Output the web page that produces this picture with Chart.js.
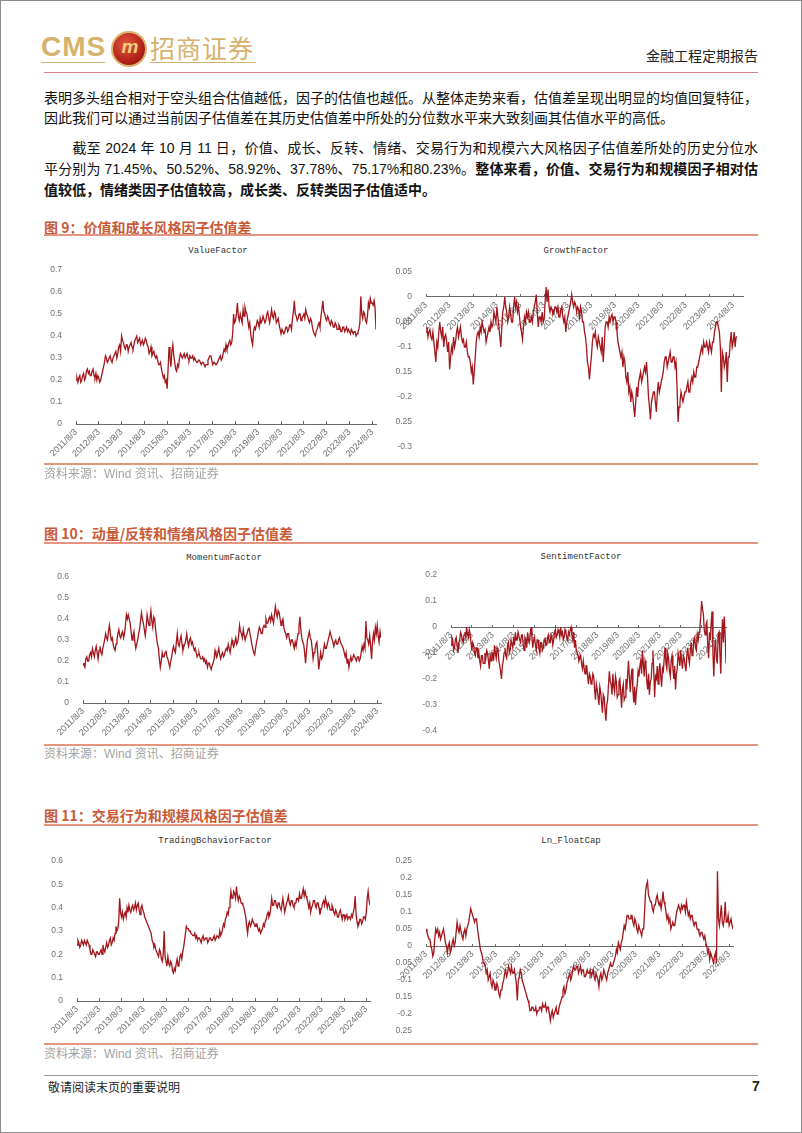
<!DOCTYPE html>
<html>
<head>
<meta charset="utf-8">
<script src="https://cdn.jsdelivr.net/npm/chart.js@4.4.1/dist/chart.umd.min.js"></script>
<style>
  html, body { margin: 0; padding: 0; background: #fff; }
  #page { position: relative; width: 802px; height: 1133px; overflow: hidden; font-family: "Liberation Sans", "Noto Sans CJK SC", sans-serif; color: #111; }
  #frame { position: absolute; left: 0; top: 0; width: 802px; height: 1133px; box-sizing: border-box; border: 1px solid #8c8c8c; pointer-events: none; }
  .abs { position: absolute; white-space: nowrap; }
  .line { position: absolute; left: 44px; width: 714px; }
  .para { position: absolute; left: 44px; width: 714px; font-size: 14px; line-height: 20px; height: 20px; white-space: nowrap; }
  .full { text-align: justify; text-align-last: justify; }
  .fig { position: absolute; left: 44px; font-size: 14px; font-weight: bold; color: #c95a37; font-family: "Noto Sans CJK SC", sans-serif; line-height: 18px; }
  .src { position: absolute; left: 44px; font-size: 12px; color: #a3a3a3; font-family: "Liberation Sans", "Noto Sans CJK SC", sans-serif; line-height: 14px; }
  .ctitle { position: absolute; font-family: "Liberation Mono", "DejaVu Sans Mono", monospace; font-size: 9px; color: #333; line-height: 10px; transform: translateX(-50%); }
  canvas { position: absolute; }
</style>
</head>
<body>
<div id="page">
  <!-- header -->
  <div class="abs" style="left:41px;top:31px;font-size:28px;font-weight:bold;color:#d6b26c;line-height:32px;letter-spacing:1px;">CMS</div>
  <div class="abs" style="left:41px;top:62px;width:64px;height:1px;background:#d6b26c;"></div>
  <div class="abs" style="left:111px;top:31px;width:32px;height:32px;border-radius:50%;border:2px solid #d9b46e;background:radial-gradient(circle at 40% 35%, #e2583a, #b3221b 60%, #7a1010);"></div>
  <div class="abs" style="left:116px;top:33px;width:28px;text-align:center;font-size:19px;font-weight:bold;font-style:italic;color:#f1cf7c;line-height:28px;">m</div>
  <div class="abs" style="left:150px;top:31px;font-size:25px;color:#d6b26c;line-height:32px;font-family:'Noto Sans CJK SC';letter-spacing:1px;">招商证券</div>
  <div class="abs" style="left:150px;top:62px;width:106px;height:1px;background:#d6b26c;"></div>
  <div class="abs" style="left:646px;top:46px;font-size:14px;color:#222;font-family:'Noto Sans CJK SC';line-height:18px;">金融工程定期报告</div>
  <div class="line" style="top:72px;height:1px;background:#d88383;"></div>

  <!-- body text -->
  <div class="para full" style="top:88px;">表明多头组合相对于空头组合估值越低，因子的估值也越低。从整体走势来看，估值差呈现出明显的均值回复特征，</div>
  <div class="para" style="top:108px;">因此我们可以通过当前因子估值差在其历史估值差中所处的分位数水平来大致刻画其估值水平的高低。</div>
  <div class="para full" style="top:138px;">　　截至 2024 年 10 月 11 日，价值、成长、反转、情绪、交易行为和规模六大风格因子估值差所处的历史分位水</div>
  <div class="para full" style="top:159px;">平分别为 71.45%、50.52%、58.92%、37.78%、75.17%和80.23%。<b>整体来看，价值、交易行为和规模因子相对估</b></div>
  <div class="para" style="top:180px;"><b>值较低，情绪类因子估值较高，成长类、反转类因子估值适中。</b></div>

  <!-- figure 9 -->
  <div class="fig" style="top:218px;">图 9：价值和成长风格因子估值差</div>
  <div class="line" style="top:234px;height:2px;background:#e39580;"></div>
  <div class="ctitle" style="left:218px;top:246px;">ValueFactor</div>
  <div class="ctitle" style="left:576px;top:246px;">GrowthFactor</div>
  <canvas id="cValue" width="334" height="198" style="left:46px;top:266px;"></canvas>
  <canvas id="cGrowth" width="351" height="183" style="left:396px;top:268px;"></canvas>
  <div class="line" style="top:463px;height:2px;background:#e39580;"></div>
  <div class="src" style="top:467px;">资料来源：Wind 资讯、招商证券</div>

  <!-- figure 10 -->
  <div class="fig" style="top:524px;">图 10：动量/反转和情绪风格因子估值差</div>
  <div class="line" style="top:542px;height:2px;background:#e39580;"></div>
  <div class="ctitle" style="left:224px;top:553px;">MomentumFactor</div>
  <div class="ctitle" style="left:581px;top:552px;">SentimentFactor</div>
  <canvas id="cMomentum" width="332" height="170" style="left:53px;top:573px;"></canvas>
  <canvas id="cSentiment" width="309" height="164" style="left:421px;top:571px;"></canvas>
  <div class="line" style="top:744px;height:2px;background:#e39580;"></div>
  <div class="src" style="top:747px;">资料来源：Wind 资讯、招商证券</div>

  <!-- figure 11 -->
  <div class="fig" style="top:806px;">图 11：交易行为和规模风格因子估值差</div>
  <div class="line" style="top:824px;height:2px;background:#e39580;"></div>
  <div class="ctitle" style="left:215px;top:836px;">TradingBchaviorFactor</div>
  <div class="ctitle" style="left:571px;top:836px;">Ln_FloatCap</div>
  <canvas id="cTrading" width="327" height="184" style="left:47px;top:857px;"></canvas>
  <canvas id="cCap" width="341" height="178" style="left:396px;top:857px;"></canvas>
  <div class="line" style="top:1043px;height:2px;background:#e39580;"></div>
  <div class="src" style="top:1047px;">资料来源：Wind 资讯、招商证券</div>

  <!-- footer -->
  <div class="line" style="top:1075px;height:1px;background:#9a9a9a;"></div>
  <div class="abs" style="left:48px;top:1079px;font-size:12px;color:#222;font-family:'Noto Sans CJK SC';line-height:16px;">敬请阅读末页的重要说明</div>
  <div class="abs" style="left:752px;top:1078px;font-size:14px;font-weight:bold;color:#222;line-height:16px;">7</div>
  <div id="frame"></div>
</div>

<script>
// two readings per month (start / middle), 2011/8 .. 2024/10/11, 317 points each
const tickLabels = ['2011/8/3', '2012/8/3', '2013/8/3', '2014/8/3', '2015/8/3', '2016/8/3', '2017/8/3',
    '2018/8/3', '2019/8/3', '2020/8/3', '2021/8/3', '2022/8/3', '2023/8/3', '2024/8/3'];
const POINTS_PER_YEAR = 24;

const valueFactor = [
    0.20,0.21, 0.19,0.21, 0.22,0.19, 0.20,0.22, 0.23,0.20, 0.21,0.24, 0.25,0.23, 0.24,0.22, 0.22,0.24, 0.25,0.22, 0.21,0.23, 0.20,0.22,
    0.21,0.19, 0.20,0.22, 0.24,0.26, 0.28,0.31, 0.30,0.28, 0.29,0.30, 0.31,0.29, 0.28,0.30, 0.30,0.32, 0.33,0.30, 0.32,0.35, 0.36,0.33,
    0.40,0.38, 0.37,0.35, 0.34,0.36, 0.36,0.33, 0.35,0.36, 0.37,0.35, 0.34,0.36, 0.38,0.39, 0.40,0.37, 0.38,0.39, 0.36,0.37, 0.38,0.36,
    0.37,0.39, 0.38,0.36, 0.35,0.32, 0.33,0.35, 0.31,0.32, 0.33,0.31, 0.30,0.31, 0.29,0.27, 0.27,0.28, 0.25,0.23, 0.21,0.22, 0.19,0.20,
    0.16,0.25, 0.35,0.30, 0.26,0.33, 0.36,0.31, 0.28,0.25, 0.24,0.27, 0.26,0.30, 0.32,0.31, 0.30,0.31, 0.32,0.30, 0.31,0.32, 0.30,0.29,
    0.31,0.30, 0.30,0.31, 0.29,0.30, 0.29,0.28, 0.28,0.29, 0.29,0.28, 0.27,0.28, 0.28,0.27, 0.26,0.27, 0.27,0.29, 0.30,0.31, 0.31,0.29,
    0.27,0.28, 0.28,0.27, 0.27,0.28, 0.29,0.30, 0.31,0.29, 0.30,0.32, 0.34,0.33, 0.36,0.34, 0.35,0.37, 0.38,0.36, 0.37,0.41, 0.50,0.46,
    0.47,0.50, 0.55,0.49, 0.47,0.50, 0.48,0.46, 0.52,0.49, 0.53,0.51, 0.50,0.47, 0.44,0.46, 0.41,0.38, 0.36,0.42, 0.44,0.43, 0.45,0.47,
    0.46,0.44, 0.48,0.46, 0.47,0.49, 0.49,0.46, 0.47,0.50, 0.51,0.48, 0.46,0.49, 0.52,0.49, 0.48,0.51, 0.50,0.46, 0.47,0.48, 0.45,0.43,
    0.41,0.43, 0.43,0.41, 0.42,0.44, 0.44,0.42, 0.43,0.45, 0.45,0.43, 0.48,0.51, 0.56,0.50, 0.49,0.47, 0.48,0.50, 0.50,0.47, 0.48,0.49,
    0.50,0.48, 0.52,0.50, 0.49,0.47, 0.46,0.48, 0.47,0.44, 0.42,0.41, 0.40,0.42, 0.43,0.45, 0.46,0.44, 0.49,0.52, 0.56,0.51, 0.50,0.48,
    0.47,0.49, 0.48,0.46, 0.45,0.47, 0.46,0.44, 0.44,0.46, 0.45,0.43, 0.43,0.45, 0.44,0.42, 0.42,0.44, 0.44,0.42, 0.43,0.44, 0.42,0.43,
    0.42,0.41, 0.43,0.42, 0.41,0.42, 0.42,0.40, 0.41,0.42, 0.43,0.46, 0.58,0.50, 0.48,0.51, 0.50,0.47, 0.46,0.49, 0.55,0.53, 0.57,0.55,
    0.55,0.54, 0.56,0.53, 0.43
];

const growthFactor = [
    -0.07,-0.06, -0.08,-0.07, -0.065,-0.08, -0.085,-0.07, -0.09,-0.11, -0.13,-0.09, -0.10,-0.07, -0.05,-0.07, -0.08,-0.06, -0.10,-0.08, -0.075,-0.09, -0.11,-0.09,
    -0.145,-0.12, -0.10,-0.11, -0.08,-0.10, -0.09,-0.07, -0.06,-0.08, -0.07,-0.06, -0.08,-0.09, -0.085,-0.10, -0.10,-0.09, -0.11,-0.12, -0.12,-0.13, -0.15,-0.14,
    -0.175,-0.15, -0.12,-0.09, -0.075,-0.07, -0.08,-0.06, -0.07,-0.05, -0.06,-0.07, -0.065,-0.09, -0.08,-0.07, -0.06,-0.07, -0.05,-0.06, -0.055,-0.03, -0.04,-0.05,
    -0.02,-0.04, -0.06,-0.08, -0.10,-0.06, -0.03,-0.02, 0.00,-0.02, -0.03,-0.05, -0.04,-0.02, -0.035,-0.05, -0.05,-0.02, 0.00,-0.02, -0.01,-0.03, -0.02,-0.04,
    -0.06,-0.07, -0.085,-0.06, -0.04,-0.05, -0.03,-0.04, -0.03,-0.05, -0.05,-0.04, -0.05,-0.03, -0.02,-0.01, 0.005,-0.03, -0.06,-0.04, -0.04,-0.05, -0.03,-0.05,
    -0.045,-0.01, 0.02,-0.01, 0.015,-0.02, -0.03,-0.02, -0.025,-0.035, -0.03,-0.02, -0.02,-0.03, -0.02,-0.04, -0.04,-0.025, -0.02,-0.04, -0.05,-0.04, -0.07,-0.05,
    -0.04,-0.03, -0.02,-0.01, 0.005,-0.01, -0.02,-0.01, -0.015,-0.03, -0.02,-0.025, -0.04,-0.02, -0.03,-0.05, -0.05,-0.07, -0.08,-0.10, -0.13,-0.14, -0.165,-0.14,
    -0.12,-0.09, -0.075,-0.08, -0.07,-0.09, -0.10,-0.08, -0.09,-0.10, -0.11,-0.08, -0.13,-0.10, -0.06,-0.05, -0.05,-0.06, -0.04,-0.05, -0.04,-0.035, -0.05,-0.04,
    -0.04,-0.05, -0.07,-0.09, -0.10,-0.11, -0.12,-0.11, -0.14,-0.12, -0.13,-0.16, -0.17,-0.15, -0.19,-0.18, -0.21,-0.19, -0.20,-0.22, -0.24,-0.21, -0.18,-0.20,
    -0.17,-0.16, -0.15,-0.17, -0.16,-0.15, -0.14,-0.15, -0.13,-0.16, -0.20,-0.22, -0.245,-0.21, -0.20,-0.19, -0.19,-0.21, -0.23,-0.19, -0.17,-0.19, -0.18,-0.17,
    -0.16,-0.15, -0.13,-0.12, -0.12,-0.14, -0.13,-0.12, -0.11,-0.13, -0.13,-0.12, -0.12,-0.14, -0.13,-0.18, -0.25,-0.22, -0.21,-0.19, -0.20,-0.21, -0.20,-0.19,
    -0.19,-0.18, -0.17,-0.19, -0.19,-0.17, -0.16,-0.17, -0.15,-0.16, -0.16,-0.14, -0.14,-0.13, -0.12,-0.11, -0.10,-0.11, -0.09,-0.10, -0.10,-0.09, -0.10,-0.11,
    -0.09,-0.10, -0.11,-0.09, -0.09,-0.07, -0.06,-0.05, -0.05,-0.06, -0.07,-0.10, -0.19,-0.11, -0.12,-0.14, -0.13,-0.11, -0.17,-0.12, -0.12,-0.09, -0.07,-0.10,
    -0.09,-0.07, -0.10,-0.08, -0.08
];

const momentumFactor = [
    0.19,0.18, 0.17,0.21, 0.22,0.20, 0.20,0.23, 0.24,0.22, 0.26,0.24, 0.22,0.25, 0.27,0.24, 0.21,0.25, 0.27,0.24, 0.23,0.26, 0.28,0.30,
    0.33,0.31, 0.30,0.34, 0.37,0.33, 0.30,0.31, 0.28,0.26, 0.25,0.28, 0.30,0.33, 0.35,0.32, 0.31,0.33, 0.34,0.31, 0.33,0.37, 0.42,0.40,
    0.42,0.40, 0.38,0.34, 0.30,0.32, 0.34,0.29, 0.26,0.28, 0.30,0.33, 0.35,0.39, 0.43,0.40, 0.38,0.35, 0.32,0.36, 0.42,0.39, 0.37,0.40,
    0.44,0.39, 0.36,0.41, 0.40,0.35, 0.31,0.28, 0.26,0.21, 0.17,0.20, 0.24,0.22, 0.22,0.24, 0.25,0.22, 0.21,0.19, 0.17,0.20, 0.22,0.25,
    0.27,0.25, 0.24,0.29, 0.33,0.28, 0.27,0.30, 0.32,0.28, 0.25,0.27, 0.28,0.30, 0.33,0.29, 0.27,0.30, 0.31,0.28, 0.29,0.27, 0.25,0.26,
    0.24,0.22, 0.23,0.24, 0.22,0.21, 0.21,0.22, 0.20,0.21, 0.19,0.20, 0.17,0.19, 0.19,0.17, 0.16,0.18, 0.19,0.21, 0.25,0.23, 0.22,0.24,
    0.26,0.23, 0.21,0.23, 0.24,0.22, 0.23,0.25, 0.26,0.25, 0.28,0.26, 0.24,0.27, 0.30,0.28, 0.27,0.29, 0.31,0.28, 0.29,0.32, 0.37,0.34,
    0.33,0.31, 0.35,0.32, 0.30,0.32, 0.33,0.35, 0.36,0.33, 0.31,0.28, 0.26,0.24, 0.23,0.26, 0.29,0.31, 0.34,0.36, 0.35,0.33, 0.33,0.36,
    0.37,0.36, 0.40,0.38, 0.38,0.40, 0.41,0.39, 0.42,0.40, 0.38,0.42, 0.46,0.43, 0.41,0.44, 0.43,0.40, 0.37,0.39, 0.40,0.36, 0.34,0.33,
    0.31,0.33, 0.33,0.30, 0.28,0.30, 0.30,0.28, 0.26,0.29, 0.27,0.30, 0.33,0.36, 0.41,0.35, 0.31,0.29, 0.28,0.24, 0.19,0.25, 0.30,0.32,
    0.34,0.31, 0.30,0.26, 0.21,0.24, 0.25,0.28, 0.29,0.23, 0.16,0.20, 0.24,0.21, 0.22,0.25, 0.28,0.26, 0.26,0.28, 0.30,0.32, 0.34,0.32,
    0.32,0.29, 0.27,0.29, 0.30,0.28, 0.28,0.30, 0.31,0.29, 0.28,0.27, 0.26,0.24, 0.22,0.24, 0.19,0.21, 0.17,0.20, 0.22,0.20, 0.21,0.23,
    0.22,0.21, 0.20,0.22, 0.22,0.20, 0.21,0.24, 0.27,0.25, 0.28,0.26, 0.39,0.31, 0.30,0.28, 0.32,0.27, 0.21,0.29, 0.33,0.30, 0.36,0.33,
    0.37,0.32, 0.29,0.34, 0.31
];

const sentimentFactor = [
    -0.07,-0.04, -0.05,-0.09, -0.08,-0.05, -0.04,-0.07, -0.10,-0.06, -0.05,-0.02, -0.03,-0.05, -0.06,-0.03, -0.02,-0.04, 0.00,-0.03, -0.04,-0.01, -0.03,-0.06,
    -0.09,-0.06, -0.07,-0.10, -0.11,-0.08, -0.08,-0.12, -0.10,-0.13, -0.15,-0.11, -0.11,-0.14, -0.14,-0.10, -0.12,-0.09, -0.10,-0.13, -0.16,-0.11, -0.13,-0.10,
    -0.10,-0.13, -0.07,-0.10, -0.12,-0.08, -0.09,-0.13, -0.15,-0.17, -0.20,-0.15, -0.13,-0.10, -0.08,-0.11, -0.12,-0.07, -0.06,-0.10, -0.09,-0.05, -0.05,-0.08,
    -0.04,-0.07, -0.02,-0.05, -0.05,-0.02, -0.02,-0.05, -0.06,-0.03, -0.03,-0.07, -0.09,-0.04, -0.05,-0.08, -0.02,-0.05, -0.06,-0.03, 0.00,-0.04, -0.08,-0.05,
    -0.04,-0.07, -0.09,-0.05, -0.05,-0.08, -0.10,-0.06, -0.06,-0.09, -0.08,-0.05, -0.04,-0.07, -0.07,-0.04, -0.03,-0.06, -0.06,-0.03, -0.04,-0.07, -0.05,-0.02,
    -0.01,-0.04, -0.03,-0.01, -0.02,-0.04, 0.00,-0.03, -0.02,-0.05, -0.04,-0.01, -0.02,-0.04, -0.05,-0.02, -0.03,-0.01, 0.00,-0.03, -0.05,-0.02, -0.08,-0.05,
    -0.09,-0.10, -0.11,-0.13, -0.12,-0.11, -0.14,-0.16, -0.13,-0.16, -0.18,-0.15, -0.15,-0.19, -0.22,-0.18, -0.19,-0.22, -0.21,-0.18, -0.19,-0.24, -0.28,-0.22,
    -0.24,-0.27, -0.30,-0.23, -0.25,-0.29, -0.33,-0.26, -0.27,-0.32, -0.36,-0.30, -0.28,-0.22, -0.17,-0.21, -0.22,-0.26, -0.18,-0.23, -0.25,-0.19, -0.21,-0.27,
    -0.26,-0.21, -0.20,-0.25, -0.31,-0.24, -0.22,-0.28, -0.27,-0.20, -0.24,-0.18, -0.13,-0.20, -0.25,-0.19, -0.16,-0.24, -0.29,-0.23, -0.30,-0.25, -0.22,-0.17,
    -0.19,-0.15, -0.13,-0.18, -0.09,-0.14, -0.19,-0.13, -0.15,-0.21, -0.24,-0.18, -0.26,-0.21, -0.20,-0.14, -0.09,-0.17, -0.27,-0.19, -0.20,-0.15, -0.22,-0.17,
    -0.14,-0.19, -0.23,-0.16, -0.17,-0.12, -0.08,-0.14, -0.16,-0.10, -0.12,-0.17, -0.19,-0.13, -0.11,-0.16, -0.20,-0.15, -0.24,-0.18, -0.16,-0.10, -0.12,-0.15,
    -0.09,-0.13, -0.16,-0.11, -0.12,-0.15, -0.17,-0.11, -0.08,-0.12, -0.14,-0.09, -0.06,-0.11, -0.10,-0.05, -0.04,-0.08, -0.09,-0.03, -0.05,-0.02, 0.00,0.04,
    0.10,0.07, 0.05,-0.01, -0.03,0.01, 0.02,-0.07, -0.12,-0.02, -0.05,0.02, 0.06,-0.10, -0.19,-0.08, -0.05,-0.12, -0.14,-0.03, -0.02,-0.10, -0.18,-0.05,
    0.03,-0.06, 0.04,-0.03, -0.14
];

const tradingFactor = [
    0.24,0.26, 0.25,0.23, 0.24,0.26, 0.25,0.24, 0.26,0.25, 0.24,0.26, 0.25,0.24, 0.22,0.20, 0.20,0.22, 0.21,0.20, 0.19,0.21, 0.21,0.20,
    0.20,0.21, 0.22,0.20, 0.24,0.22, 0.21,0.23, 0.25,0.23, 0.24,0.26, 0.27,0.24, 0.25,0.27, 0.26,0.29, 0.32,0.30, 0.31,0.34, 0.44,0.38,
    0.36,0.38, 0.35,0.37, 0.38,0.36, 0.40,0.38, 0.41,0.39, 0.38,0.40, 0.41,0.39, 0.40,0.42, 0.39,0.41, 0.42,0.39, 0.37,0.40, 0.41,0.39,
    0.38,0.36, 0.35,0.34, 0.33,0.32, 0.31,0.30, 0.29,0.26, 0.25,0.23, 0.24,0.22, 0.21,0.20, 0.19,0.22, 0.21,0.18, 0.17,0.20, 0.30,0.19,
    0.17,0.15, 0.19,0.16, 0.15,0.17, 0.16,0.13, 0.12,0.14, 0.13,0.16, 0.18,0.15, 0.16,0.19, 0.20,0.18, 0.21,0.23, 0.26,0.29, 0.32,0.31,
    0.31,0.30, 0.30,0.29, 0.29,0.28, 0.28,0.29, 0.27,0.28, 0.26,0.27, 0.27,0.26, 0.25,0.27, 0.28,0.26, 0.26,0.27, 0.27,0.25, 0.26,0.27,
    0.27,0.26, 0.26,0.27, 0.28,0.26, 0.27,0.28, 0.28,0.27, 0.30,0.28, 0.29,0.31, 0.33,0.32, 0.35,0.36, 0.38,0.37, 0.40,0.43, 0.47,0.44,
    0.44,0.47, 0.46,0.44, 0.49,0.45, 0.43,0.45, 0.44,0.42, 0.42,0.41, 0.40,0.38, 0.36,0.32, 0.29,0.33, 0.34,0.32, 0.33,0.35, 0.34,0.33,
    0.32,0.33, 0.33,0.31, 0.30,0.31, 0.29,0.30, 0.31,0.33, 0.32,0.34, 0.35,0.37, 0.38,0.36, 0.37,0.40, 0.44,0.41, 0.41,0.43, 0.43,0.41,
    0.40,0.42, 0.42,0.40, 0.39,0.41, 0.44,0.41, 0.38,0.40, 0.42,0.43, 0.45,0.42, 0.41,0.43, 0.43,0.41, 0.40,0.42, 0.42,0.44, 0.44,0.43,
    0.46,0.44, 0.44,0.46, 0.48,0.45, 0.47,0.45, 0.44,0.42, 0.40,0.42, 0.38,0.40, 0.41,0.43, 0.43,0.41, 0.40,0.42, 0.42,0.40, 0.37,0.39,
    0.40,0.42, 0.43,0.41, 0.44,0.42, 0.40,0.42, 0.41,0.39, 0.39,0.41, 0.40,0.38, 0.37,0.39, 0.38,0.36, 0.36,0.38, 0.39,0.37, 0.35,0.37,
    0.37,0.35, 0.36,0.37, 0.35,0.36, 0.36,0.35, 0.37,0.36, 0.38,0.40, 0.45,0.37, 0.34,0.32, 0.33,0.35, 0.35,0.33, 0.34,0.36, 0.36,0.35,
    0.38,0.44, 0.47,0.43, 0.41
];

const floatCap = [
    0.05,0.04, 0.03,0.02, 0.02,0.00, -0.01,-0.03, -0.02,0.02, 0.05,0.04, 0.05,0.03, 0.04,0.02, 0.03,0.04, 0.05,0.03, 0.01,0.00, -0.02,0.00,
    0.01,-0.02, -0.01,0.01, 0.02,0.00, 0.01,0.04, 0.07,0.05, 0.04,0.06, 0.06,0.03, 0.02,0.04, 0.05,0.03, 0.05,0.06, 0.07,0.09, 0.11,0.10,
    0.09,0.08, 0.07,0.08, 0.08,0.05, 0.03,0.01, -0.01,-0.02, -0.03,-0.05, -0.05,-0.06, -0.08,-0.07, -0.10,-0.09, -0.08,-0.11, -0.12,-0.10, -0.11,-0.13,
    -0.13,-0.11, -0.12,-0.14, -0.15,-0.13, -0.13,-0.11, -0.10,-0.08, -0.07,-0.09, -0.08,-0.06, -0.07,-0.08, -0.06,-0.08, -0.08,-0.07, -0.09,-0.11, -0.16,-0.10,
    -0.09,-0.07, -0.08,-0.10, -0.11,-0.12, -0.13,-0.14, -0.15,-0.16, -0.17,-0.19, -0.19,-0.18, -0.18,-0.19, -0.19,-0.18, -0.20,-0.19, -0.19,-0.18, -0.18,-0.19,
    -0.17,-0.18, -0.18,-0.17, -0.19,-0.18, -0.18,-0.20, -0.22,-0.20, -0.19,-0.21, -0.20,-0.19, -0.18,-0.20, -0.20,-0.18, -0.17,-0.16, -0.15,-0.13, -0.12,-0.14,
    -0.13,-0.11, -0.10,-0.09, -0.08,-0.10, -0.09,-0.07, -0.06,-0.07, -0.07,-0.06, -0.06,-0.08, -0.07,-0.06, -0.08,-0.07, -0.07,-0.09, -0.09,-0.08, -0.07,-0.08,
    -0.08,-0.07, -0.09,-0.08, -0.07,-0.09, -0.10,-0.08, -0.08,-0.10, -0.12,-0.09, -0.08,-0.10, -0.09,-0.07, -0.08,-0.09, -0.10,-0.08, -0.07,-0.06, -0.05,-0.06,
    -0.06,-0.05, -0.04,-0.03, -0.01,-0.02, 0.01,0.00, -0.01,0.01, 0.02,0.04, 0.06,0.05, 0.07,0.09, 0.09,0.08, 0.08,0.09, 0.09,0.07, 0.06,0.08,
    0.07,0.05, 0.04,0.06, 0.05,0.04, 0.03,0.05, 0.05,0.10, 0.16,0.18, 0.19,0.15, 0.14,0.13, 0.13,0.11, 0.10,0.12, 0.12,0.14, 0.15,0.13,
    0.12,0.13, 0.11,0.13, 0.16,0.13, 0.12,0.10, 0.08,0.09, 0.07,0.08, 0.05,0.06, 0.07,0.06, 0.06,0.08, 0.10,0.11, 0.12,0.11, 0.10,0.12,
    0.11,0.12, 0.12,0.10, 0.13,0.11, 0.09,0.10, 0.08,0.09, 0.09,0.07, 0.06,0.07, 0.07,0.05, 0.05,0.04, 0.03,0.04, 0.04,0.03, 0.02,0.03,
    0.01,0.00, -0.02,-0.01, -0.04,-0.02, -0.03,-0.04, -0.05,-0.03, -0.02,-0.05, 0.22,0.08, 0.06,0.09, 0.12,0.07, 0.06,0.08, 0.13,0.07, 0.07,0.09,
    0.06,0.07, 0.08,0.06, 0.05
];

const LINE_COLOR = "#a3161b";
const AXIS_COLOR = "#6a6a6a";
const TICK_COLOR = "#707070";

// one chart per factor
function drawFactor(canvasId, values, yMin, yMax, yStep, zeroAxis, xMax) {
    const ctx = document.getElementById(canvasId).getContext("2d");
    return new Chart(ctx, {
        type: "line",
        data: {
            datasets: [{
                data: values.map((v, i) => ({ x: i, y: v })),
                borderColor: LINE_COLOR,
                borderWidth: 1.3,
                pointRadius: 0,
                tension: 0
            }]
        },
        options: {
            responsive: false,
            animation: false,
            devicePixelRatio: 1,
            layout: { padding: { top: 4, right: 4, bottom: zeroAxis ? 4 : 0, left: 0 } },
            plugins: { legend: { display: false }, tooltip: { enabled: false } },
            scales: {
                x: {
                    type: "linear",
                    min: 0,
                    max: xMax,
                    position: zeroAxis ? { y: 0 } : "bottom",
                    grid: { display: true, drawOnChartArea: false, drawTicks: true, tickLength: -3, color: AXIS_COLOR },
                    border: { display: true, color: AXIS_COLOR, width: 1 },
                    afterBuildTicks: s => { s.ticks = tickLabels.map((_, i) => ({ value: i * POINTS_PER_YEAR })); },
                    afterFit: s => { if (!zeroAxis) s.height = 40; s.paddingLeft = 0; s.paddingRight = 0; },
                    ticks: {
                        autoSkip: false,
                        minRotation: 45,
                        maxRotation: 45,
                        padding: 6,
                        color: TICK_COLOR,
                        font: { family: "Liberation Sans", size: 9 },
                        callback: v => tickLabels[Math.round(v / POINTS_PER_YEAR)]
                    }
                },
                y: {
                    min: yMin,
                    max: yMax,
                    grid: { display: false },
                    border: { display: false },
                    afterFit: s => { s.width = 30; s.paddingTop = 0; s.paddingBottom = 0; },
                    ticks: {
                        stepSize: yStep,
                        padding: 6,
                        color: TICK_COLOR,
                        font: { family: "Liberation Sans", size: 8.5 },
                        callback: v => String(+v.toFixed(2))
                    }
                }
            }
        }
    });
}

drawFactor("cValue", valueFactor, 0, 0.7, 0.1, false, 316);
drawFactor("cGrowth", growthFactor, -0.3, 0.05, 0.05, true, 322);
drawFactor("cMomentum", momentumFactor, 0, 0.6, 0.1, false, 316);
drawFactor("cSentiment", sentimentFactor, -0.4, 0.2, 0.1, true, 316);
drawFactor("cTrading", tradingFactor, 0, 0.6, 0.1, false, 316);
drawFactor("cCap", floatCap, -0.25, 0.25, 0.05, true, 316);
</script>
</body>
</html>
